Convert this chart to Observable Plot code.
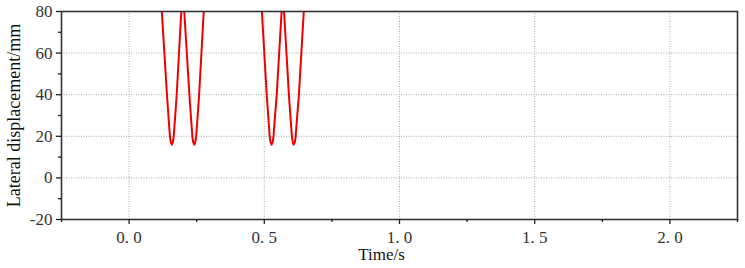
<!DOCTYPE html>
<html>
<head>
<meta charset="utf-8">
<script src="https://cdn.jsdelivr.net/npm/d3@7"></script>
<script src="https://cdn.jsdelivr.net/npm/@observablehq/plot@0.6"></script>
<style>
  html, body { margin: 0; padding: 0; background: #fff; }
  #chart svg text { font-family: 'Liberation Serif', 'Times New Roman', serif !important; }
</style>
</head>
<body>
<div id="chart"></div>
<script>
// Time (s) and lateral displacement (mm); values above 80 are clipped
const time = [
  0.100,
  0.121, 0.140, 0.147, 0.151, 0.154, 0.158, 0.162, 0.165, 0.169, 0.176, 0.193,
  0.1985,
  0.204, 0.223, 0.230, 0.234, 0.237, 0.241, 0.245, 0.248, 0.252, 0.259, 0.276,
  0.290, 0.380, 0.475,
  0.491, 0.509, 0.516, 0.520, 0.523, 0.527, 0.531, 0.534, 0.538, 0.546, 0.564,
  0.5685,
  0.573, 0.591, 0.598, 0.602, 0.605, 0.609, 0.613, 0.616, 0.620, 0.628, 0.646,
  0.660, 0.700
];
const displacement = [
  115,
  80, 40, 27, 20, 17.2, 16, 17.2, 20, 27, 40, 80,
  85,
  80, 40, 27, 20, 17.2, 16, 17.2, 20, 27, 40, 80,
  105, 150, 110,
  80, 40, 27, 20, 17.2, 16, 17.2, 20, 27, 40, 80,
  85,
  80, 40, 27, 20, 17.2, 16, 17.2, 20, 27, 40, 80,
  105, 150
];
const xTicks = [0, 0.5, 1.0, 1.5, 2.0];
const xMinorTicks = [-0.25, 0.25, 0.75, 1.25, 1.75, 2.25];
const yTicks = [-20, 0, 20, 40, 60, 80];
const yMinorTicks = [-10, 10, 30, 50, 70];
const xLabel = ["Time/s"];
const yLabel = ["Lateral displacement/mm"];

const data = time.map((t, i) => ({t, y: displacement[i]}));
const serif = "'Liberation Serif', 'Times New Roman', serif";

const chart = Plot.plot({
  width: 745,
  height: 268,
  marginLeft: 61,
  marginRight: 8,
  marginTop: 11,
  marginBottom: 49,
  style: {fontFamily: serif, fontSize: "17px", color: "#222", background: "#fff"},
  x: {domain: [-0.25, 2.25]},
  y: {domain: [-20, 80]},
  marks: [
    Plot.gridX(xTicks, {stroke: "#aaa", strokeOpacity: 1, strokeDasharray: "1,1.5"}),
    Plot.gridY([0, 20, 40, 60], {stroke: "#aaa", strokeOpacity: 1, strokeDasharray: "1,1.5"}),
    Plot.line(data, {x: "t", y: "y", stroke: "#ee0000", strokeWidth: 2, clip: true, curve: "linear"}),
    Plot.frame({stroke: "#333", strokeWidth: 1.6}),
    Plot.axisX(xTicks, {tickSize: 5, tickPadding: 6, stroke: "#222", strokeWidth: 1.3,
      tickFormat: d => d.toFixed(1).replace(".", ". "), label: null, fontSize: 17, fontFamily: serif, fill: "#333"}),
    Plot.axisX(xMinorTicks, {tickSize: 3, tickFormat: () => "", stroke: "#222", strokeWidth: 1.3, label: null}),
    Plot.axisY(yTicks, {tickSize: 5, tickPadding: 4, stroke: "#222", strokeWidth: 1.3, label: null, fontSize: 17,
      fontFamily: serif, fill: "#333", tickFormat: d => String(d)}),
    Plot.axisY(yMinorTicks, {tickSize: 3, tickFormat: () => "", stroke: "#222", strokeWidth: 1.3, label: null}),
    Plot.text(xLabel, {text: d => d, frameAnchor: "bottom", dx: -18, dy: 40, fontSize: 17, fontFamily: serif, fill: "#111"}),
    Plot.text(yLabel, {text: d => d, frameAnchor: "left", textAnchor: "middle", rotate: -90, dx: -47, fontSize: 18,
      fontFamily: serif, fill: "#111"})
  ]
});
document.getElementById("chart").appendChild(chart);
</script>
</body>
</html>
